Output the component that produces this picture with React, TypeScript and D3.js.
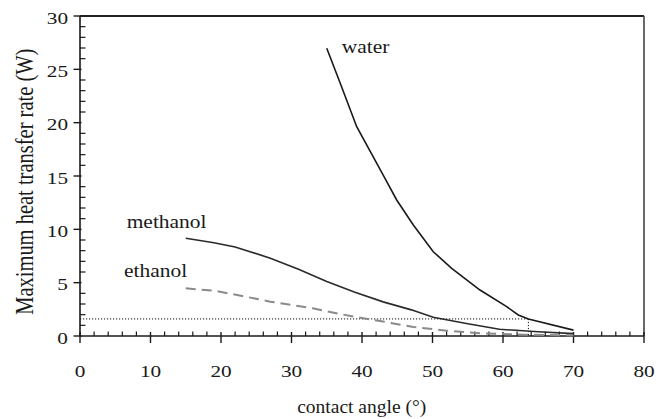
import React from "react";
import * as d3 from "d3";

const waterX = [35, 36.9, 39.25, 43.26, 44.92, 47.28, 50.11, 52.72, 56.74, 60.52, 62.17, 63.6, 70];
const waterY = [26.97, 23.72, 19.62, 14.78, 12.75, 10.41, 7.9, 6.35, 4.31, 2.75, 1.97, 1.6, 0.55];
const methanolX = [15, 19, 22, 27, 31, 35, 39, 43, 47, 50.1, 55, 59.5, 65, 70];
const methanolY = [9.16, 8.75, 8.35, 7.3, 6.25, 5.1, 4.1, 3.2, 2.45, 1.75, 1.15, 0.63, 0.4, 0.22];
const ethanolX = [15, 19, 23, 27, 33, 37, 40, 43, 47.3, 52, 56.7, 63, 70];
const ethanolY = [4.47, 4.25, 3.75, 3.22, 2.6, 2.05, 1.68, 1.35, 0.85, 0.5, 0.25, 0.12, 0.05];
const xTicks = [0, 10, 20, 30, 40, 50, 60, 70, 80];
const yTicks = [0, 5, 10, 15, 20, 25, 30];
const limitPower = 1.6;
const limitAngle = 63.6;
const seriesLabels = ["water", "methanol", "ethanol"];
const xTitle = "contact angle (°)";
const yTitle = "Maximum heat transfer rate (W)";

const FONT = '"Liberation Serif", "Times New Roman", Times, serif';

export default function App() {
  const x = d3.scaleLinear().domain([0, 80]).range([80, 644]);
  const y = d3.scaleLinear().domain([0, 30]).range([336, 16]);
  const line = d3
    .line<[number, number]>()
    .x((d) => x(d[0]))
    .y((d) => y(d[1]))
    .curve(d3.curveLinear);
  const zip = (a: number[], b: number[]) => a.map((v, i) => [v, b[i]] as [number, number]);

  const xMinor = d3.range(0, 81, 2).filter((v) => v % 10 !== 0);
  const yMinor = d3.range(0, 31, 1).filter((v) => v % 5 !== 0);
  const ink = "#1a1a1a";
  const ts = { fontFamily: FONT };

  return (
    <svg
      width={669}
      height={419}
      style={{ position: "absolute", left: 0, top: 0, background: "#fff" }}
    >
      <rect width={669} height={419} fill="#fff" />
      {/* frame */}
      <line x1={x(0)} x2={x(80)} y1={y(30)} y2={y(30)} stroke="#222" strokeWidth={1.8} />
      <line x1={x(80)} x2={x(80)} y1={y(30)} y2={y(0)} stroke="#444" strokeWidth={1.6} />
      <line x1={x(0)} x2={x(0)} y1={y(30)} y2={y(0)} stroke={ink} strokeWidth={1.6} />
      <line x1={x(0)} x2={x(80)} y1={y(0)} y2={y(0)} stroke={ink} strokeWidth={1.6} />

      {/* x ticks */}
      {xTicks.map((t) => (
        <line key={"xt" + t} x1={x(t)} x2={x(t)} y1={y(0) - 4} y2={y(0) + 7} stroke={ink} strokeWidth={1.4} />
      ))}
      {xMinor.map((t) => (
        <line key={"xm" + t} x1={x(t)} x2={x(t)} y1={y(0)} y2={y(0) - 4.5} stroke={ink} strokeWidth={1.2} />
      ))}
      {xTicks.map((t) => (
        <text
          key={"xl" + t}
          style={ts}
          transform={`translate(${x(t)},376.5) scale(1.25,1)`}
          textAnchor="middle"
          fontSize={17}
          fill={ink}
        >
          {t}
        </text>
      ))}

      {/* y ticks */}
      {yTicks.map((t) => (
        <line key={"yt" + t} x1={x(0) - 6.5} x2={x(0) + 1.5} y1={y(t)} y2={y(t)} stroke={ink} strokeWidth={1.4} />
      ))}
      {yMinor.map((t) => (
        <line key={"ym" + t} x1={x(0)} x2={x(0) + 5.5} y1={y(t)} y2={y(t)} stroke={ink} strokeWidth={1.2} />
      ))}
      {yTicks.map((t) => (
        <text
          key={"yl" + t}
          style={ts}
          transform={`translate(68,${y(t) + 7.5}) scale(1.25,1)`}
          textAnchor="end"
          fontSize={17}
          fill={ink}
        >
          {t}
        </text>
      ))}

      {/* limit dotted lines */}
      <line
        x1={x(0)}
        x2={x(limitAngle)}
        y1={y(limitPower)}
        y2={y(limitPower)}
        stroke="#111"
        strokeWidth={1}
        strokeDasharray="1.2,1.8"
      />
      <line
        x1={x(limitAngle)}
        x2={x(limitAngle)}
        y1={y(limitPower)}
        y2={y(0)}
        stroke="#111"
        strokeWidth={1}
        strokeDasharray="1.2,1.8"
      />

      {/* curves */}
      <path d={line(zip(ethanolX, ethanolY)) || ""} fill="none" stroke="#8a8a8a" strokeWidth={2} strokeDasharray="10,6" />
      <path d={line(zip(methanolX, methanolY)) || ""} fill="none" stroke="#2a2a2a" strokeWidth={1.6} />
      <path d={line(zip(waterX, waterY)) || ""} fill="none" stroke="#1a1a1a" strokeWidth={1.6} />

      {/* series labels */}
      <text style={ts} transform="translate(341.7,53.3) scale(1.1,1)" fontSize={19.5} fill={ink}>
        {seriesLabels[0]}
      </text>
      <text style={ts} transform="translate(126.7,228.3) scale(1.1,1)" fontSize={19.5} fill={ink}>
        {seriesLabels[1]}
      </text>
      <text style={ts} transform="translate(124,277.3) scale(1.1,1)" fontSize={19.5} fill={ink}>
        {seriesLabels[2]}
      </text>

      {/* axis titles */}
      <text style={ts} x={361.7} y={413} textAnchor="middle" fontSize={19.5} fill={ink}>
        {xTitle}
      </text>
      <text
        style={ts}
        transform={`translate(33,181.7) scale(1.25,1) rotate(-90)`}
        textAnchor="middle"
        fontSize={20.5}
        fill={ink}
      >
        {yTitle}
      </text>
    </svg>
  );
}
